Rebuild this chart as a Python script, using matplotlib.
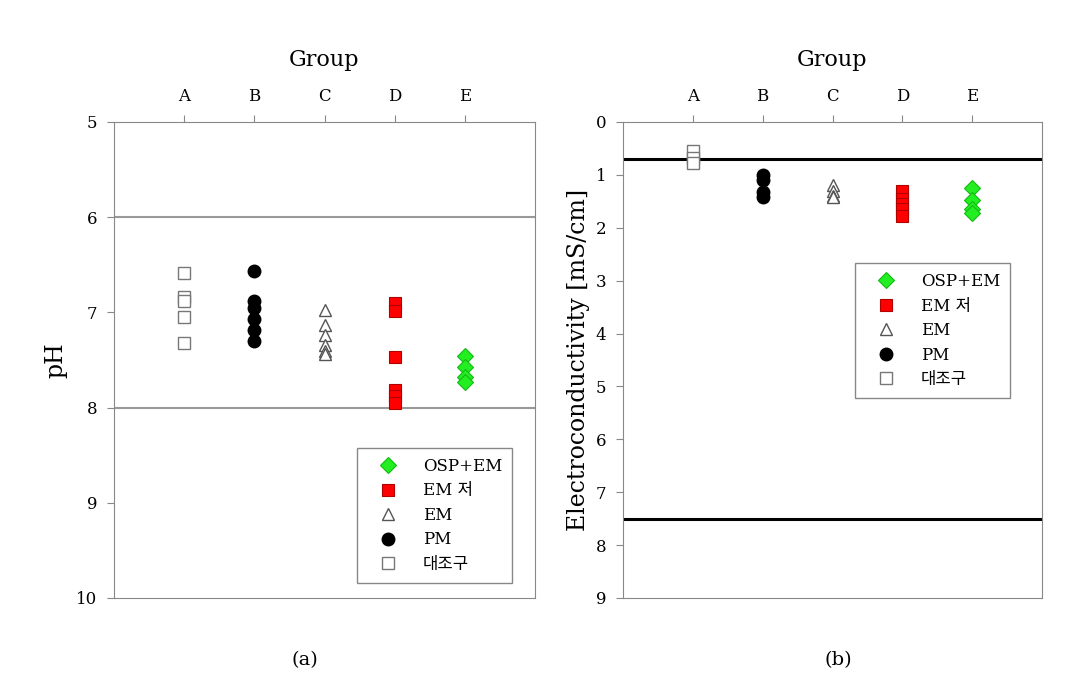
import matplotlib
matplotlib.use("Agg")
import matplotlib.pyplot as plt

plt.rcParams['font.family'] = ['DejaVu Serif', 'Noto Sans CJK KR']

groups = ['A', 'B', 'C', 'D', 'E']
labels = ['대조구', 'PM', 'EM', 'EM 저', 'OSP+EM']

# pH values per group
ph_a = [6.59, 6.84, 6.88, 7.05, 7.32]
ph_b = [6.57, 6.88, 6.95, 7.07, 7.18, 7.30]
ph_c = [6.97, 7.13, 7.24, 7.34, 7.41, 7.44]
ph_d = [6.90, 6.99, 7.47, 7.81, 7.88, 7.95]
ph_e = [7.46, 7.57, 7.68, 7.73]
ph_limits = [6, 8]

# electroconductivity [mS/cm]
ec_a = [0.55, 0.68, 0.78]
ec_b = [1.0, 1.1, 1.32, 1.42]
ec_c = [1.2, 1.3, 1.4, 1.42]
ec_d = [1.3, 1.45, 1.55, 1.65, 1.77]
ec_e = [1.25, 1.47, 1.65, 1.72]
ec_limits = [0.7, 7.5]

styles = [
    dict(marker='s', mfc='white', mec='#777777', ms=8, mew=1),
    dict(marker='o', mfc='black', mec='black', ms=9, mew=1),
    dict(marker='^', mfc='white', mec='#555555', ms=9, mew=1),
    dict(marker='s', mfc='#ff0000', mec='#b00000', ms=8, mew=0.8),
    dict(marker='D', mfc='#22ee22', mec='#11bb11', ms=8, mew=0.8),
]


def draw_panel(ax, series, ylim, yticks, ylabel, ylabelpad, hlines, line_color, line_w, legend_loc):
    handles = []
    for i, vals in enumerate(series):
        h, = ax.plot([i] * len(vals), vals, linestyle='none', label=labels[i], **styles[i])
        handles.append(h)
    for v in hlines:
        ax.axhline(v, color=line_color, lw=line_w, zorder=1)
    ax.set_xlim(-1, 5)
    ax.set_ylim(ylim[1], ylim[0])
    ax.set_yticks(yticks)
    ax.set_xticks(range(len(groups)))
    ax.set_xticklabels(groups)
    ax.xaxis.tick_top()
    ax.xaxis.set_label_position('top')
    ax.set_xlabel('Group', fontsize=16, labelpad=16)
    ax.set_ylabel(ylabel, fontsize=17, labelpad=ylabelpad)
    ax.tick_params(axis='both', labelsize=12, direction='out', length=5, color='#888888')
    ax.tick_params(axis='x', pad=7)
    ax.tick_params(axis='y', pad=7)
    for s in ax.spines.values():
        s.set_color('#888888')
    leg = ax.legend(handles[::-1], labels[::-1], bbox_to_anchor=legend_loc, loc='upper left',
                    fancybox=False, framealpha=1, edgecolor='#888888', fontsize=12,
                    handlelength=2.5, handletextpad=0.85, borderpad=0.6,
                    labelspacing=0.45, borderaxespad=0)
    return leg


fig = plt.figure(figsize=(10.72, 6.8), dpi=100)
ax1 = fig.add_axes([114 / 1072, 1 - 598 / 680, 421 / 1072, 476 / 680])
ax2 = fig.add_axes([623 / 1072, 1 - 598 / 680, 419 / 1072, 476 / 680])

draw_panel(ax1, [ph_a, ph_b, ph_c, ph_d, ph_e], (5, 10), range(5, 11), 'pH', 6,
           ph_limits, '#999999', 1.5, ((357 - 114) / 421, (598 - 448) / 476))
draw_panel(ax2, [ec_a, ec_b, ec_c, ec_d, ec_e], (0, 9), range(0, 10),
           'Electroconductivity [mS/cm]', 4, ec_limits, 'black', 2.2,
           ((855 - 623) / 419, (598 - 263) / 476))

fig.text(305 / 1072, 1 - 660 / 680, '(a)', ha='center', va='center', fontsize=14)
fig.text(838 / 1072, 1 - 660 / 680, '(b)', ha='center', va='center', fontsize=14)

fig.savefig('out.png', dpi=100)
